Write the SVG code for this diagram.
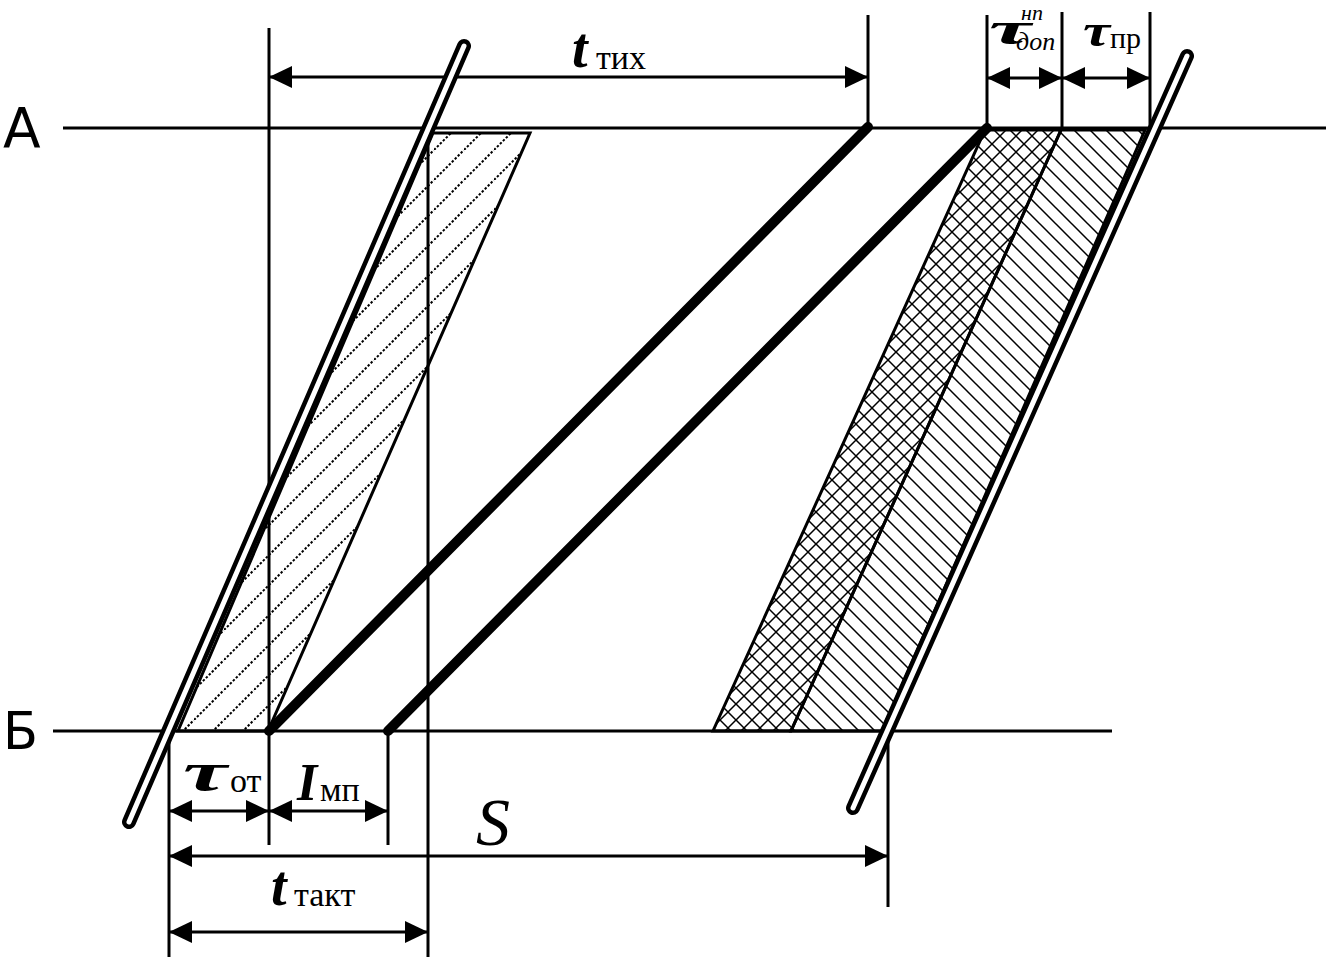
<svg xmlns="http://www.w3.org/2000/svg" width="1331" height="960" viewBox="0 0 1331 960">
<style>
.ln{stroke:#000;stroke-width:3;fill:none}
.bd{stroke:#000;stroke-width:3;stroke-linejoin:miter}
.thick{stroke:#000;stroke-width:10;stroke-linecap:round;fill:none}
.tubeO{stroke:#000;stroke-width:14;stroke-linecap:round;fill:none}
.tubeI{stroke:#fff;stroke-width:5;stroke-linecap:round;fill:none}
.dim{stroke:#000;stroke-width:3;fill:none;marker-start:url(#ah);marker-end:url(#ah)}
.lab{font-family:"Liberation Serif","Times New Roman",serif;fill:#000}
.bi{font-weight:bold;font-style:italic}
.it{font-style:italic}
.sans{font-family:"DejaVu Sans",Verdana,sans-serif;fill:#000}
</style>
<defs>
<marker id="ah" markerUnits="userSpaceOnUse" viewBox="0 0 23 22" refX="23" refY="11" markerWidth="23" markerHeight="22" orient="auto-start-reverse">
<path d="M0,0 L23,11 L0,22 z" fill="#000"/>
</marker>
<pattern id="hatchR" patternUnits="userSpaceOnUse" width="30" height="30" patternTransform="translate(14,0)">
<path d="M-5,5 L5,-5 M0,30 L30,0 M25,35 L35,25" stroke="#000" stroke-width="2" stroke-dasharray="2.4 1.8"/>
</pattern>
<pattern id="cross" patternUnits="userSpaceOnUse" width="16" height="16">
<path d="M-3,3 L3,-3 M0,16 L16,0 M13,19 L19,13 M-3,13 L3,19 M0,0 L16,16 M13,-3 L19,3" stroke="#000" stroke-width="1.5"/>
</pattern>
<pattern id="hatchL" patternUnits="userSpaceOnUse" width="16" height="16">
<path d="M-3,13 L3,19 M0,0 L16,16 M13,-3 L19,3" stroke="#000" stroke-width="1.5"/>
</pattern>
</defs>

<g id="regions">
<g id="left-band">
<polygon points="433,133 530,133 268,731 178,731" fill="url(#hatchR)" class="bd"/>
</g>
<g id="right-band-cross">
<polygon points="985,130 1061,130 791,731 713,731" fill="url(#cross)" class="bd"/>
</g>
<g id="right-band-diag">
<polygon points="1061,130 1145,130 882,731 791,731" fill="url(#hatchL)" class="bd"/>
</g>
</g>

<g id="connectors">
<line class="ln" x1="63" y1="128" x2="1326" y2="128"/>
<line class="ln" x1="53" y1="731" x2="1112" y2="731"/>
<line class="ln" x1="269" y1="28" x2="269" y2="845"/>
<line class="ln" x1="868" y1="15" x2="868" y2="127"/>
<line class="ln" x1="428" y1="128" x2="428" y2="957"/>
<line class="ln" x1="388" y1="731" x2="388" y2="845"/>
<line class="ln" x1="169" y1="733" x2="169" y2="957"/>
<line class="ln" x1="888" y1="731" x2="888" y2="907"/>
<line class="ln" x1="987" y1="15" x2="987" y2="128"/>
<line class="ln" x1="1062" y1="12" x2="1062" y2="128"/>
<line class="ln" x1="1150" y1="12" x2="1150" y2="128"/>
<line class="dim" x1="269" y1="77" x2="868" y2="77"/>
<line class="dim" x1="987" y1="78" x2="1062" y2="78"/>
<line class="dim" x1="1062" y1="78" x2="1150" y2="78"/>
<line class="dim" x1="169" y1="811" x2="269" y2="811"/>
<line class="dim" x1="269" y1="811" x2="388" y2="811"/>
<line class="dim" x1="169" y1="856" x2="888" y2="856"/>
<line class="dim" x1="169" y1="932" x2="428" y2="932"/>
<line class="thick" x1="269" y1="731" x2="868" y2="127"/>
<line class="thick" x1="388" y1="731" x2="987" y2="128"/>
</g>

<g id="tube-left">
<line class="tubeO" x1="464" y1="46" x2="129" y2="822"/>
<line class="tubeI" x1="464" y1="46" x2="129" y2="822"/>
</g>
<g id="tube-right">
<line class="tubeO" x1="1187" y1="56" x2="853" y2="808"/>
<line class="tubeI" x1="1187" y1="56" x2="853" y2="808"/>
</g>

<g id="labels">
<text class="sans" x="3" y="147" font-size="55">А</text>
<text class="sans" x="3" y="749" font-size="51">Б</text>
<g id="lab-ttih"><text class="lab bi" x="572" y="67" font-size="56">t</text><text class="lab" x="596" y="69" font-size="34">тих</text></g>
<g id="lab-tdop"><text class="lab bi" x="989" y="44" font-size="46" textLength="42" lengthAdjust="spacingAndGlyphs">τ</text><text class="lab it" x="1016" y="50" font-size="26">доп</text><text class="lab it" x="1021" y="20" font-size="22">нп</text></g>
<g id="lab-tpr"><text class="lab bi" x="1083" y="46" font-size="46" textLength="27" lengthAdjust="spacingAndGlyphs">τ</text><text class="lab" x="1110" y="48" font-size="30">пр</text></g>
<g id="lab-tot"><text class="lab bi" x="183" y="790" font-size="54" textLength="44" lengthAdjust="spacingAndGlyphs">τ</text><text class="lab" x="230" y="792" font-size="34">от</text></g>
<g id="lab-imp"><text class="lab bi" x="297" y="800" font-size="52">I</text><text class="lab" x="320" y="801" font-size="34">мп</text></g>
<g id="lab-s"><text class="lab it" x="476" y="845" font-size="68">S</text></g>
<g id="lab-ttakt"><text class="lab bi" x="271" y="905" font-size="56">t</text><text class="lab" x="294" y="906" font-size="34">такт</text></g>
</g>
</svg>
